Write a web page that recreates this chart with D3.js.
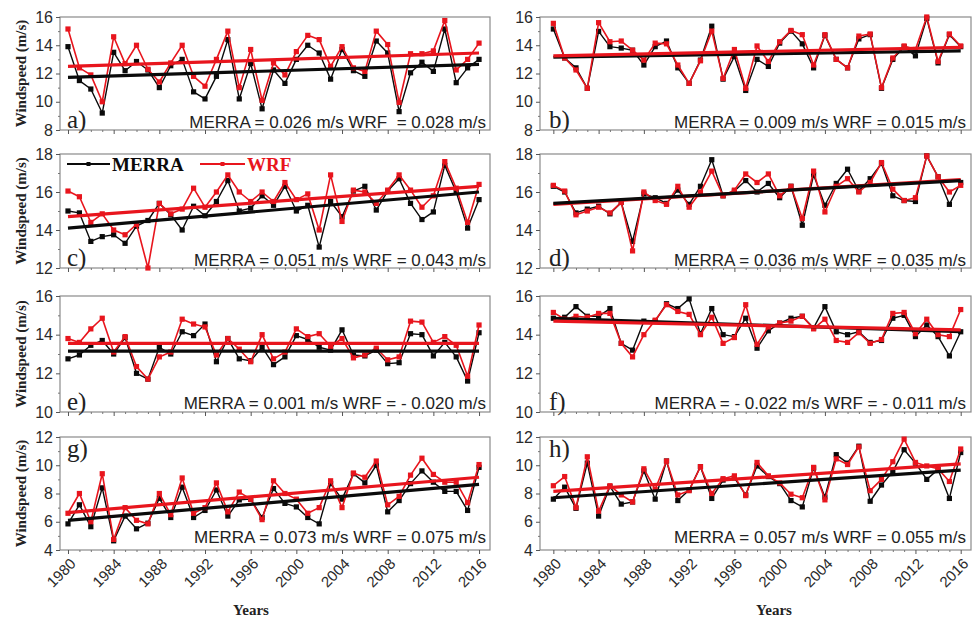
<!DOCTYPE html>
<html><head><meta charset="utf-8">
<script src="https://cdn.jsdelivr.net/npm/d3@7"></script>
<style>body{margin:0;background:#fff}svg{display:block}</style>
</head><body>
<svg id="chart" width="972" height="622"></svg>
<script>
// ---------- data ----------
const years = [1980,1981,1982,1983,1984,1985,1986,1987,1988,1989,1990,1991,1992,1993,1994,1995,1996,1997,1998,1999,2000,2001,2002,2003,2004,2005,2006,2007,2008,2009,2010,2011,2012,2013,2014,2015,2016];
const yearLabels = [1980,1984,1988,1992,1996,2000,2004,2008,2012,2016];
const panelLetters = ["a)","b)","c)","d)","e)","f)","g)","h)"];
const yDomains = [[8,16],[8,16],[12,18],[12,18],[10,16],[10,16],[4,12],[4,12]];
const annotations = [
  "MERRA = 0.026 m/s WRF  = 0.028 m/s",
  "MERRA = 0.009 m/s WRF = 0.015 m/s",
  "MERRA = 0.051 m/s WRF = 0.043 m/s",
  "MERRA = 0.036 m/s WRF = 0.035 m/s",
  "MERRA = 0.001 m/s WRF = - 0.020 m/s",
  "MERRA = - 0.022 m/s WRF = - 0.011 m/s",
  "MERRA = 0.073 m/s WRF = 0.075 m/s",
  "MERRA = 0.057 m/s WRF = 0.055 m/s"
];
const merraA = [13.9,11.5,10.9,9.2,13.5,12.2,12.85,12.25,11.0,12.55,13.0,10.7,10.2,11.8,14.4,10.2,12.7,9.5,12.25,11.3,13.0,14.0,13.45,11.6,13.7,12.2,11.8,14.3,13.45,9.3,12.05,12.8,12.15,15.15,11.35,12.4,13.0];
const wrfA   = [15.15,12.4,11.9,10.0,14.6,12.7,14.0,12.3,11.4,12.75,14.0,11.8,11.1,13.0,15.0,11.0,13.7,10.1,12.75,11.9,13.55,14.7,14.4,12.5,13.9,12.4,12.15,15.0,14.05,9.95,13.4,13.4,13.6,15.75,12.25,13.0,14.15];
const merraB = [15.15,13.1,12.4,10.95,14.98,13.9,13.8,13.65,12.6,13.9,14.3,12.4,11.3,12.95,15.35,11.6,13.2,10.8,13.0,12.5,14.15,15.0,14.1,12.4,14.7,13.0,12.4,14.45,14.75,10.95,13.0,13.9,13.25,15.9,12.75,14.75,13.9];
const wrfB   = [15.55,13.1,12.25,10.95,15.6,14.25,14.3,13.65,12.95,14.15,14.1,12.6,11.3,12.9,15.0,11.65,13.7,10.95,13.95,12.85,14.25,15.05,14.75,12.6,14.75,13.0,12.4,14.65,14.8,11.0,13.1,13.95,13.7,16.0,12.85,14.8,13.95];
const merraC = [15.0,14.9,13.4,13.65,13.75,13.3,14.2,14.5,15.4,14.8,14.0,15.25,14.75,15.5,16.6,15.0,15.15,15.8,15.3,16.3,15.0,15.3,13.1,15.5,14.7,16.05,16.3,15.05,16.05,16.7,15.4,14.55,14.95,17.4,16.0,14.1,15.6];
const wrfC   = [16.05,15.75,14.4,14.85,14.0,13.75,14.3,12.0,15.4,14.85,15.1,16.2,15.2,16.0,16.9,16.0,15.5,16.0,15.5,16.5,15.6,15.9,14.0,16.9,14.45,16.1,16.0,15.4,16.1,16.9,16.1,15.2,15.8,17.6,16.2,14.4,16.4];
const merraD = [16.3,16.0,14.9,15.1,15.25,14.85,15.45,13.4,15.9,15.7,15.4,16.1,15.35,16.3,17.7,15.8,16.05,16.6,16.0,16.45,15.7,16.3,14.25,16.9,15.3,16.45,17.2,16.05,16.7,17.5,15.8,15.55,15.5,17.9,16.8,15.35,16.5];
const wrfD   = [16.35,16.05,14.8,15.0,15.2,14.9,15.45,12.9,16.0,15.55,15.35,16.3,15.2,16.0,17.1,15.8,16.1,16.95,16.5,16.95,15.8,16.3,14.6,17.1,14.95,16.3,16.7,16.0,16.5,17.55,16.15,15.55,15.7,17.9,16.8,16.0,16.35];
const merraE = [12.75,12.95,13.45,13.7,13.0,13.85,12.0,11.7,13.35,13.0,14.15,13.95,14.55,12.6,13.8,12.75,12.65,13.35,12.45,12.85,13.95,13.75,13.35,13.2,14.25,12.95,12.9,13.2,12.5,12.55,14.05,14.0,12.9,13.6,12.85,11.6,14.1];
const wrfE   = [13.8,13.6,14.3,14.85,13.1,13.9,12.35,11.7,12.85,13.1,14.8,14.55,14.4,12.95,13.8,13.25,12.6,14.0,12.75,13.1,14.3,13.9,14.05,13.4,13.8,12.8,12.95,13.3,12.7,12.85,14.7,14.65,13.6,13.9,13.45,11.85,14.5];
const merraF = [14.85,14.9,15.45,14.95,14.95,15.35,13.55,13.2,14.7,14.7,15.6,15.35,15.85,14.05,15.35,14.0,13.9,14.85,13.3,14.2,14.6,14.85,14.95,14.35,15.45,14.15,14.0,14.15,13.6,13.7,14.85,15.0,13.9,14.5,13.9,12.9,14.15];
const wrfF   = [15.15,14.8,14.95,14.9,15.1,15.1,13.55,12.85,14.0,14.75,15.55,15.2,15.05,14.0,14.9,13.55,13.85,15.55,13.5,14.4,14.6,14.7,14.95,14.3,14.8,13.7,13.6,14.1,13.55,13.75,15.1,15.15,14.05,14.8,14.0,13.9,15.3];
const merraG = [5.85,7.2,5.65,8.4,4.65,6.4,5.5,5.9,7.65,6.3,8.45,6.3,6.8,8.25,6.4,7.55,7.6,6.3,8.35,7.3,7.05,6.3,5.85,8.7,7.6,9.4,8.75,10.0,6.7,7.5,8.7,9.6,8.8,8.15,8.15,6.8,9.85];
const wrfG   = [6.6,8.0,6.0,9.4,4.75,7.0,6.1,5.85,8.0,6.5,9.1,6.6,7.0,8.75,6.7,8.1,7.6,6.15,8.9,8.0,7.6,6.6,7.0,8.9,7.0,9.45,9.15,10.3,7.2,7.8,9.3,10.5,9.35,8.8,8.8,7.35,10.05];
const merraH = [7.6,8.45,6.95,10.15,6.4,8.5,7.25,7.4,9.6,7.6,10.3,7.5,8.25,9.9,7.65,8.95,9.1,7.9,9.95,9.2,8.7,7.5,7.05,9.8,7.75,10.75,10.15,11.35,7.45,8.6,9.55,11.1,10.15,9.0,9.7,7.65,10.9];
const wrfH   = [8.55,9.2,7.0,10.6,6.75,8.55,7.9,7.4,9.75,8.3,10.3,7.9,8.2,9.9,8.0,9.05,9.25,7.85,10.2,9.25,8.75,7.95,7.7,9.85,7.55,10.45,10.05,11.3,8.2,9.0,10.25,11.85,10.2,9.95,9.75,8.85,11.15];
// linear trend lines: value at 1980 and at 2016
const trendMerra = [[11.72,12.65],[13.15,13.6],[14.1,16.0],[15.4,16.6],[13.15,13.15],[14.85,14.15],[6.1,8.65],[7.7,9.65]];
const trendWrf   = [[12.5,13.45],[13.25,13.85],[14.7,16.3],[15.35,16.65],[13.55,13.55],[14.7,14.25],[6.65,9.15],[8.15,10.1]];

const merraSeries = [merraA,merraB,merraC,merraD,merraE,merraF,merraG,merraH];
const wrfSeries   = [wrfA,wrfB,wrfC,wrfD,wrfE,wrfF,wrfG,wrfH];

// ---------- layout ----------
const RED = "#e8151d", BLACK = "#0a0a0a";
const SANS = "'Liberation Sans', Arial, sans-serif";
const SERIF = "'Liberation Serif', 'Times New Roman', serif";
const cols = [
  {range:[60,490], domain:[1979.3,2016.96], letterX:67, annX:486},
  {range:[540,971], domain:[1978.82,2016.91], letterX:549, annX:966}
];
const rows = [
  {top:17, bottom:130, letterY:128, annY:128},
  {top:154, bottom:268, letterY:266, annY:266},
  {top:296, bottom:412, letterY:410, annY:409},
  {top:437, bottom:550, letterY:457, annY:543}
];

const svg = d3.select("#chart");

panelLetters.forEach((letter, i) => {
  const col = cols[i % 2], row = rows[Math.floor(i / 2)];
  const x = d3.scaleLinear().domain(col.domain).range(col.range);
  const y = d3.scaleLinear().domain(yDomains[i]).range([row.bottom, row.top]);
  const g = svg.append("g");
  const [y0, y1] = yDomains[i];
  const majorY = d3.range(y0, y1 + 0.001, 2);
  const minorY = d3.range(y0 + 1, y1, 2);

  // frame
  g.append("rect")
    .attr("x", col.range[0]).attr("y", row.top)
    .attr("width", col.range[1] - col.range[0]).attr("height", row.bottom - row.top)
    .attr("fill", "none").attr("stroke", "#8a8a8a").attr("stroke-width", 1.2);

  // y axis
  const ya = g.append("g").attr("transform", `translate(${col.range[0]},0)`)
    .call(d3.axisLeft(y).tickValues(majorY).tickSize(4).tickPadding(3).tickFormat(d3.format("d")));
  ya.select(".domain").remove();
  ya.selectAll("line").attr("stroke", "#555");
  ya.selectAll("text").attr("font-family", SANS).attr("font-size", 16).attr("fill", "#2a2a2a");
  const ym = g.append("g").attr("transform", `translate(${col.range[0]},0)`)
    .call(d3.axisLeft(y).tickValues(minorY).tickSize(2).tickFormat(""));
  ym.select(".domain").remove();
  ym.selectAll("line").attr("stroke", "#777");

  // x axis
  const xa = g.append("g").attr("transform", `translate(0,${row.bottom})`)
    .call(d3.axisBottom(x).tickValues(yearLabels).tickSize(4).tickFormat(""));
  xa.select(".domain").remove();
  xa.selectAll("line").attr("stroke", "#555");
  const xm = g.append("g").attr("transform", `translate(0,${row.bottom})`)
    .call(d3.axisBottom(x).tickValues(years.filter(v => !yearLabels.includes(v))).tickSize(2).tickFormat(""));
  xm.select(".domain").remove();
  xm.selectAll("line").attr("stroke", "#777");

  if (Math.floor(i / 2) === 3) {
    g.selectAll(".yl").data(yearLabels).enter().append("text")
      .attr("transform", d => `translate(${x(d) + 5},${row.bottom + 11}) rotate(-45)`)
      .attr("text-anchor", "end").attr("dy", "0.35em")
      .attr("font-family", SANS).attr("font-size", 15).attr("fill", "#2a2a2a")
      .text(d => d);
    g.append("text")
      .attr("x", i % 2 === 0 ? 251 : 774).attr("y", 615)
      .attr("text-anchor", "middle").attr("font-family", SERIF)
      .attr("font-weight", "bold").attr("font-size", 15).attr("fill", "#222")
      .text("Years");
  }

  if (i % 2 === 0) {
    g.append("text")
      .attr("transform", `translate(21,${(row.top + row.bottom) / 2}) rotate(-90)`)
      .attr("text-anchor", "middle").attr("dy", "0.35em")
      .attr("font-family", SERIF).attr("font-weight", "bold").attr("font-size", 15).attr("fill", "#222")
      .text("Windspeed (m/s)");
  }

  // series
  const line = d3.line().x((d, k) => x(years[k])).y(d => y(d));
  const drawSeries = (vals, color, w) => {
    g.append("path").datum(vals).attr("d", line)
      .attr("fill", "none").attr("stroke", color).attr("stroke-width", w).attr("stroke-linejoin", "round");
    g.selectAll(null).data(vals).enter().append("rect")
      .attr("x", (d, k) => x(years[k]) - 2.6).attr("y", d => y(d) - 2.6)
      .attr("width", 5.2).attr("height", 5.2).attr("fill", color);
  };
  drawSeries(merraSeries[i], BLACK, 1.4);
  drawSeries(wrfSeries[i], RED, 1.6);

  // trends
  const trendLine = (t, color) => g.append("line")
    .attr("x1", x(years[0])).attr("x2", x(years[years.length - 1]))
    .attr("y1", y(t[0])).attr("y2", y(t[1]))
    .attr("stroke", color).attr("stroke-width", 3.2);
  if (i === 3) { trendLine(trendWrf[i], RED); trendLine(trendMerra[i], BLACK); }
  else { trendLine(trendMerra[i], BLACK); trendLine(trendWrf[i], RED); }

  // panel letter
  g.append("text").attr("x", col.letterX).attr("y", row.letterY)
    .attr("font-family", SERIF).attr("font-size", 25).attr("fill", "#222").text(letter);

  // annotation
  g.append("text").attr("x", col.annX).attr("y", row.annY)
    .attr("text-anchor", "end").attr("font-family", SANS).attr("font-size", 17)
    .attr("fill", "#222").style("white-space", "pre").text(annotations[i]);

  // legend (panel c)
  if (i === 2) {
    const ly = 164;
    const legend = [{label:"MERRA", color:BLACK, x0:67, x1:110, tx:112}, {label:"WRF", color:RED, x0:200, x1:245, tx:247}];
    legend.forEach(L => {
      g.append("line").attr("x1", L.x0).attr("x2", L.x1).attr("y1", ly).attr("y2", ly)
        .attr("stroke", L.color).attr("stroke-width", 1.8);
      g.append("rect").attr("x", (L.x0 + L.x1) / 2 - 2).attr("y", ly - 2).attr("width", 4).attr("height", 4).attr("fill", L.color);
      g.append("text").attr("x", L.tx).attr("y", ly + 6.5)
        .attr("font-family", SERIF).attr("font-weight", "bold").attr("font-size", 19)
        .attr("fill", L.color).text(L.label);
    });
  }
});
</script>
</body></html>
